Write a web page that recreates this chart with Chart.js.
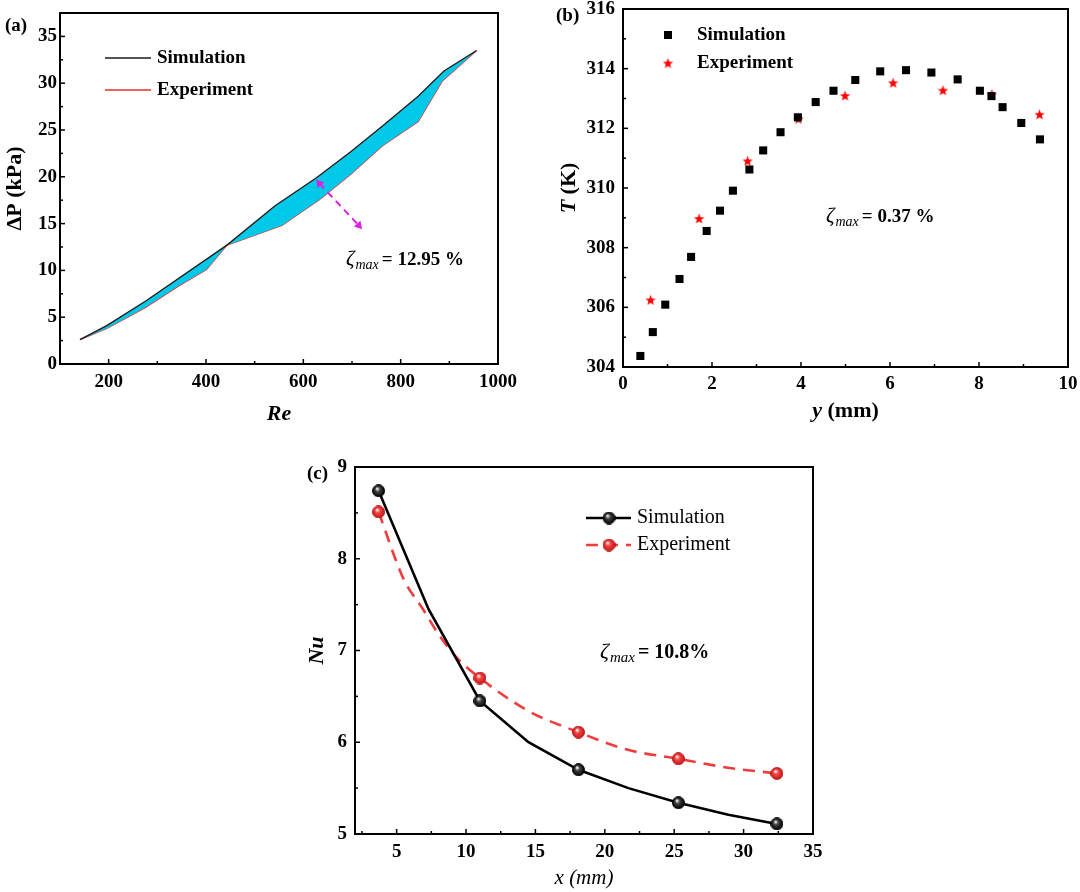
<!DOCTYPE html>
<html lang="en">
<head>
  <meta charset="UTF-8">
  <title>Simulation vs experiment</title>
  <script src="https://cdn.jsdelivr.net/npm/chart.js"></script>
  <style>
    body { margin: 0; background: #fff; }
    canvas { position: absolute; }
  </style>
</head>
<body>
  <canvas id="chartA" width="540" height="440" style="left:0;top:0;width:540px;height:440px"></canvas>
  <canvas id="chartB" width="540" height="440" style="left:540px;top:0;width:540px;height:440px"></canvas>
  <canvas id="chartC" width="540" height="452" style="left:290px;top:440px;width:540px;height:452px"></canvas>

  <script>
    // (a) pressure drop vs Re
    const reSim = [141, 196, 277, 443, 542, 627, 698, 762, 836, 889, 956];
    const dpSim = [2.6, 4.1, 6.75, 12.7, 16.9, 19.9, 22.7, 25.4, 28.6, 31.3, 33.5];
    const reExp = [141, 196, 274, 344, 401, 443, 556, 634, 698, 762, 836, 885, 956];
    const dpExp = [2.6, 3.8, 6.0, 8.35, 10.1, 12.7, 14.8, 17.6, 20.3, 23.3, 25.9, 30.2, 33.5];
    const arrowRe = [633, 714];
    const arrowDp = [19.3, 14.8];
    const aXTicks = [200, 400, 600, 800, 1000];
    const aYTicks = [0, 5, 10, 15, 20, 25, 30, 35];

    // (b) temperature profile
    const ySim = [0.39, 0.67, 0.95, 1.27, 1.53, 1.88, 2.18, 2.47, 2.84, 3.15, 3.54, 3.93, 4.33, 4.73,
                  5.22, 5.78, 6.36, 6.93, 7.52, 8.02, 8.28, 8.53, 8.95, 9.37];
    const tSim = [304.37, 305.17, 306.09, 306.95, 307.69, 308.56, 309.24, 309.91, 310.62, 311.26, 311.87,
                  312.37, 312.88, 313.26, 313.62, 313.91, 313.95, 313.87, 313.64, 313.26, 313.08, 312.71,
                  312.18, 311.63];
    const yExp = [0.62, 1.71, 2.80, 3.94, 4.99, 6.07, 7.19, 8.29, 9.36];
    const tExp = [306.25, 308.98, 310.91, 312.32, 313.10, 313.53, 313.28, 313.15, 312.47];
    const bXTicks = [0, 2, 4, 6, 8, 10];
    const bYTicks = [304, 306, 308, 310, 312, 314, 316];

    // (c) Nusselt number along x (markers only on the measured stations)
    const xSim = [3.7, 7.3, 11.0, 14.5, 18.1, 21.7, 25.3, 28.9, 32.4];
    const nuSim = [8.74, 7.45, 6.45, 6.0, 5.7, 5.5, 5.34, 5.21, 5.11];
    const simMarked = [1, 0, 1, 0, 1, 0, 1, 0, 1];
    const xExp = [3.7, 5.5, 6.9, 8.1, 9.4, 11.0, 14.5, 18.1, 21.6, 25.3, 29.0, 32.4];
    const nuExp = [8.51, 7.78, 7.45, 7.16, 6.91, 6.70, 6.34, 6.11, 5.92, 5.82, 5.72, 5.66];
    const expMarked = [1, 0, 0, 0, 0, 1, 0, 1, 0, 1, 0, 1];
    const cXTicks = [5, 10, 15, 20, 25, 30, 35];
    const cYTicks = [5, 6, 7, 8, 9];

    const SERIF = '"Liberation Serif", "Times New Roman", serif';

    const pts = (xs, ys) => xs.map((x, i) => ({ x, y: ys[i] }));

    function ballImage(base, dark, size) {
      const c = document.createElement('canvas');
      c.width = c.height = size;
      const g = c.getContext('2d');
      const r = size / 2 - 0.5;
      const grad = g.createRadialGradient(size * 0.38, size * 0.32, 0.4, size / 2, size / 2, r);
      grad.addColorStop(0, '#ffffff');
      grad.addColorStop(0.35, base);
      grad.addColorStop(1, dark);
      g.fillStyle = grad;
      g.beginPath();
      g.arc(size / 2, size / 2, r, 0, Math.PI * 2);
      g.fill();
      g.strokeStyle = dark;
      g.lineWidth = 1;
      g.stroke();
      return c;
    }

    function starImage(color, size) {
      const c = document.createElement('canvas');
      c.width = c.height = size;
      const g = c.getContext('2d');
      const R = size / 2, r = R * 0.42, cx = size / 2, cy = size / 2 + 0.6;
      g.beginPath();
      for (let k = 0; k < 10; k++) {
        const ang = -Math.PI / 2 + k * Math.PI / 5;
        const rad = k % 2 ? r : R;
        g.lineTo(cx + rad * Math.cos(ang), cy + rad * Math.sin(ang));
      }
      g.closePath();
      g.fillStyle = color;
      g.fill();
      return c;
    }

    const ballBlack = ballImage('#444', '#000', 13);
    const ballRed = ballImage('#f44848', '#c01818', 13);
    const redStar = starImage('#ff0000', 11);

    // ζ_max = ... label
    function drawZeta(ctx, x, base, rest, size) {
      ctx.textBaseline = 'alphabetic';
      ctx.textAlign = 'left';
      ctx.fillStyle = '#000';
      ctx.font = `italic ${size + 2}px ${SERIF}`;
      ctx.fillText('ζ', x, base);
      let w = ctx.measureText('ζ').width + 1;
      ctx.font = `italic ${size - 5}px ${SERIF}`;
      ctx.fillText('max', x + w, base + 4);
      w += ctx.measureText('max').width + 3;
      ctx.font = `bold ${size}px ${SERIF}`;
      ctx.fillText(rest, x + w, base);
    }

    // axis title made of differently styled pieces, centred on (cx, cy)
    function drawParts(ctx, parts, cx, cy, vertical) {
      ctx.save();
      ctx.translate(cx, cy);
      if (vertical) ctx.rotate(-Math.PI / 2);
      ctx.fillStyle = '#000';
      ctx.textBaseline = 'middle';
      ctx.textAlign = 'left';
      let total = 0;
      parts.forEach(([t, f]) => { ctx.font = f; total += ctx.measureText(t).width; });
      let x = -total / 2;
      parts.forEach(([t, f]) => { ctx.font = f; ctx.fillText(t, x, 0); x += ctx.measureText(t).width; });
      ctx.restore();
    }

    function drawMarker(ctx, ds, x, y) {
      const st = ds.pointStyle;
      if (st && typeof st === 'object') {
        ctx.drawImage(st, x - st.width / 2, y - st.height / 2);
      } else if (st === 'rect') {
        ctx.fillStyle = ds.backgroundColor;
        ctx.fillRect(x - 4, y - 4, 8, 8);
      }
    }

    function inwardTicks(ctx, scale, area, horizontal) {
      const vals = scale.ticks.map(t => t.value);
      const step = vals[1] - vals[0];
      const tick = (v, len) => {
        const p = scale.getPixelForValue(v);
        ctx.beginPath();
        if (horizontal) { ctx.moveTo(p, area.bottom); ctx.lineTo(p, area.bottom - len); }
        else { ctx.moveTo(area.left, p); ctx.lineTo(area.left + len, p); }
        ctx.stroke();
      };
      vals.forEach(v => tick(v, 5));
      for (let v = vals[0] - step / 2; v < scale.max; v += step) {
        if (v > scale.min) tick(v, 3);
      }
    }

    const paperPlugin = {
      id: 'paper',
      afterDraw(chart, args, opts) {
        const { ctx, chartArea: a } = chart;
        ctx.save();
        ctx.strokeStyle = '#000';
        ctx.lineWidth = 1.5;
        inwardTicks(ctx, chart.scales.x, a, true);
        inwardTicks(ctx, chart.scales.y, a, false);
        ctx.lineWidth = 2;
        ctx.strokeRect(a.left, a.top, a.right - a.left, a.bottom - a.top);

        // panel tag
        ctx.fillStyle = '#000';
        ctx.font = `bold 19px ${SERIF}`;
        ctx.textBaseline = 'alphabetic';
        ctx.fillText(opts.tag, opts.tagX, opts.tagY);

        drawZeta(ctx, opts.noteX, opts.noteY, opts.note, opts.noteSize);

        if (opts.xTitle) drawParts(ctx, opts.xTitle.parts, (a.left + a.right) / 2, opts.xTitle.y, false);
        if (opts.yTitle) drawParts(ctx, opts.yTitle.parts, opts.yTitle.x, (a.top + a.bottom) / 2, true);

        // legend
        const lg = opts.legend;
        let row = 0;
        chart.data.datasets.forEach(ds => {
          if (ds.noLegend) return;
          const y = lg.rows[row++];
          if (lg.line) {
            ctx.save();
            ctx.strokeStyle = ds.borderColor;
            ctx.lineWidth = ds.borderWidth;
            ctx.setLineDash(ds.borderDash || []);
            ctx.beginPath();
            ctx.moveTo(lg.x0, y);
            ctx.lineTo(lg.x1, y);
            ctx.stroke();
            ctx.restore();
          }
          if (lg.marker) drawMarker(ctx, ds, lg.markX, y);
          ctx.fillStyle = '#000';
          ctx.font = lg.font;
          ctx.textBaseline = 'middle';
          ctx.fillText(ds.label, lg.textX, y);
        });
        ctx.restore();
      }
    };

    function axisOpts(o) {
      return {
        type: 'linear',
        min: o.min,
        max: o.max,
        grid: { display: false, drawTicks: false },
        border: { display: false },
        afterBuildTicks: s => { s.ticks = o.ticks.map(v => ({ value: v })); },
        afterFit: s => {
          if (o.width) s.width = o.width;
          if (o.height) s.height = o.height;
          s.paddingTop = s.paddingBottom = s.paddingLeft = s.paddingRight = 0;
        },
        ticks: {
          color: '#000',
          padding: o.tickPad,
          autoSkip: false,
          maxRotation: 0,
          font: { family: SERIF, size: 19, weight: 'bold' },
          callback: v => String(v)
        },
        title: {
          display: !!o.title,
          text: o.title || '',
          color: '#000',
          font: o.titleFont,
          padding: o.titlePad
        }
      };
    }

    const common = {
      responsive: false,
      animation: false,
      events: [],
      plugins: { legend: { display: false }, tooltip: { enabled: false } }
    };

    const BOLD22 = `bold 22px ${SERIF}`;
    const BOLDIT22 = `italic bold 22px ${SERIF}`;

    // (a)
    new Chart(document.getElementById('chartA'), {
      type: 'line',
      data: {
        datasets: [
          {
            label: 'Simulation',
            data: pts(reSim, dpSim),
            borderColor: '#1a1a1a',
            borderWidth: 1.3,
            pointRadius: 0,
            backgroundColor: '#00c8e8',
            fill: '+1'
          },
          {
            label: 'Experiment',
            data: pts(reExp, dpExp),
            borderColor: '#e8302c',
            borderWidth: 1.3,
            pointRadius: 0,
            fill: false
          },
          {
            label: 'arrow',
            noLegend: true,
            order: -1,
            data: pts(arrowRe, arrowDp),
            borderColor: '#dd22dd',
            backgroundColor: '#dd22dd',
            borderWidth: 2,
            borderDash: [7, 5],
            pointStyle: 'triangle',
            pointRadius: 5,
            pointBorderWidth: 0,
            pointRotation: [-41, 139],
            fill: false
          }
        ]
      },
      options: {
        ...common,
        layout: { padding: { left: 0, top: 13, right: 42, bottom: 0 } },
        scales: {
          x: axisOpts({ min: 100, max: 1000, ticks: aXTicks, height: 76, tickPad: 7,
            title: 'Re', titleFont: { family: SERIF, size: 22, weight: 'bold', style: 'italic' },
            titlePad: { top: 0, bottom: 12 } }),
          y: axisOpts({ min: 0, max: 37.5, ticks: aYTicks, width: 60, tickPad: 3,
            title: 'ΔP (kPa)', titleFont: { family: SERIF, size: 22, weight: 'bold' },
            titlePad: { top: 2, bottom: 0 } })
        },
        plugins: {
          ...common.plugins,
          paper: {
            tag: '(a)', tagX: 5, tagY: 31,
            note: '= 12.95 %', noteX: 346, noteY: 265, noteSize: 19,
            legend: { line: true, marker: false, x0: 105, x1: 151, textX: 157, rows: [58, 90],
                      font: `bold 19px ${SERIF}` }
          }
        }
      },
      plugins: [paperPlugin]
    });

    // (b)
    new Chart(document.getElementById('chartB'), {
      type: 'scatter',
      data: {
        datasets: [
          {
            label: 'Simulation',
            data: pts(ySim, tSim),
            pointStyle: 'rect',
            pointRadius: 5.7,
            pointBorderWidth: 0,
            backgroundColor: '#000'
          },
          {
            label: 'Experiment',
            data: pts(yExp, tExp),
            pointStyle: redStar,
            pointRadius: 5,
            backgroundColor: '#ff0000'
          }
        ]
      },
      options: {
        ...common,
        layout: { padding: { left: 0, top: 9, right: 12, bottom: 0 } },
        scales: {
          x: axisOpts({ min: 0, max: 10, ticks: bXTicks, height: 73, tickPad: 6 }),
          y: axisOpts({ min: 304, max: 316, ticks: bYTicks, width: 83, tickPad: 8 })
        },
        plugins: {
          ...common.plugins,
          paper: {
            tag: '(b)', tagX: 16, tagY: 21,
            note: '= 0.37 %', noteX: 286, noteY: 222, noteSize: 19,
            xTitle: { y: 411, parts: [['y', BOLDIT22], [' (mm)', BOLD22]] },
            yTitle: { x: 29, parts: [['T', BOLDIT22], [' (K)', BOLD22]] },
            legend: { line: false, marker: true, markX: 128, textX: 157, rows: [35, 63],
                      font: `bold 19px ${SERIF}` }
          }
        }
      },
      plugins: [paperPlugin]
    });

    // (c)
    new Chart(document.getElementById('chartC'), {
      type: 'line',
      data: {
        datasets: [
          {
            label: 'Simulation',
            data: pts(xSim, nuSim),
            borderColor: '#000',
            borderWidth: 2.6,
            pointStyle: ballBlack,
            pointRadius: simMarked.map(m => m ? 5 : 0),
            fill: false
          },
          {
            label: 'Experiment',
            data: pts(xExp, nuExp),
            borderColor: '#f03c3c',
            borderWidth: 2.6,
            borderDash: [12, 8],
            cubicInterpolationMode: 'monotone',
            pointStyle: ballRed,
            pointRadius: expMarked.map(m => m ? 5 : 0),
            fill: false
          }
        ]
      },
      options: {
        ...common,
        layout: { padding: { left: 0, top: 27, right: 17, bottom: 0 } },
        scales: {
          x: axisOpts({ min: 2, max: 35, ticks: cXTicks, height: 58, tickPad: 7,
            title: 'x (mm)', titleFont: { family: SERIF, size: 21, style: 'italic' },
            titlePad: { top: 0, bottom: 1 } }),
          y: axisOpts({ min: 5, max: 9, ticks: cYTicks, width: 65, tickPad: 8,
            title: 'Nu', titleFont: { family: SERIF, size: 22, weight: 'bold', style: 'italic' },
            titlePad: { top: 14, bottom: 0 } })
        },
        plugins: {
          ...common.plugins,
          paper: {
            tag: '(c)', tagX: 17, tagY: 39,
            note: '= 10.8%', noteX: 310, noteY: 218, noteSize: 20,
            legend: { line: true, marker: true, x0: 296, x1: 341, markX: 319, textX: 347, rows: [78, 105],
                      font: `20px ${SERIF}` }
          }
        }
      },
      plugins: [paperPlugin]
    });
  </script>
</body>
</html>
